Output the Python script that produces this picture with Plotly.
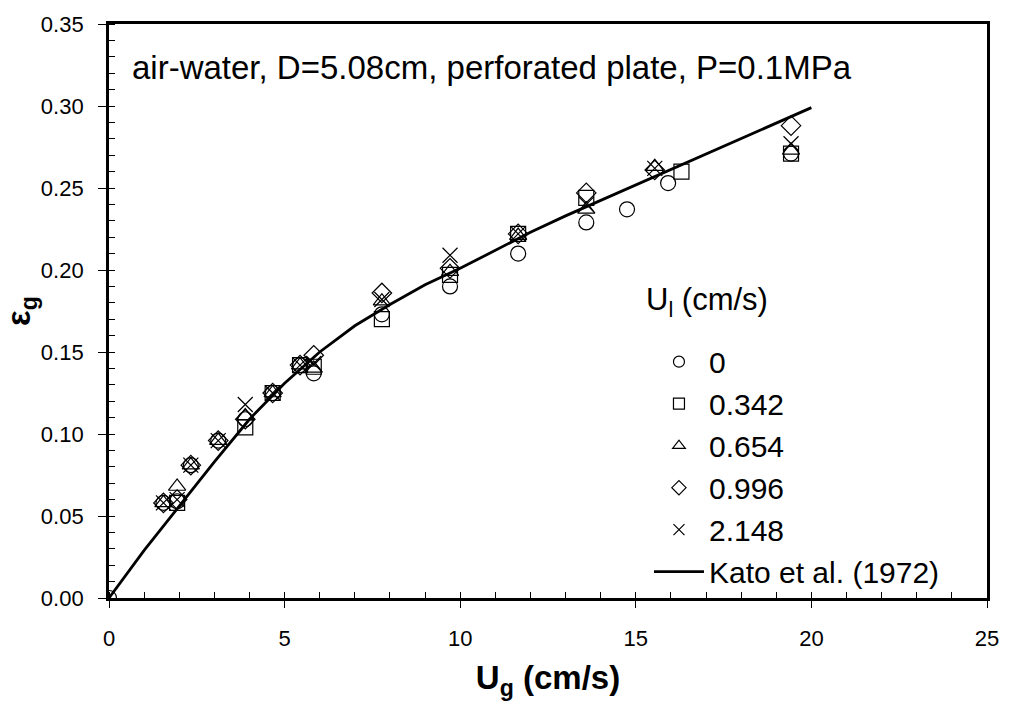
import plotly.graph_objects as go

# ---- data ----
ug_circle = [0, 1.55, 1.94, 2.33, 3.11, 3.88, 4.66, 5.44, 5.83, 7.77, 9.71, 11.65, 13.59, 14.75, 15.92, 19.42]
eg_circle = [0, 0.058, 0.059, 0.081, 0.096, 0.109, 0.125, 0.142, 0.137, 0.173, 0.190, 0.210, 0.229, 0.237, 0.253, 0.271]

ug_square = [1.94, 3.88, 4.66, 5.44, 5.83, 7.77, 9.71, 11.65, 13.59, 16.30, 19.42]
eg_square = [0.058, 0.104, 0.125, 0.142, 0.141, 0.170, 0.197, 0.222, 0.244, 0.260, 0.271]

ug_triangle = [1.55, 1.94, 2.33, 3.11, 3.88, 4.66, 5.44, 5.83, 7.77, 9.71, 11.65, 13.59, 15.54, 19.42]
eg_triangle = [0.058, 0.068, 0.081, 0.096, 0.111, 0.125, 0.142, 0.140, 0.181, 0.199, 0.221, 0.237, 0.263, 0.273]

ug_diamond = [1.55, 1.94, 2.33, 3.11, 3.88, 4.66, 5.44, 5.83, 7.77, 9.71, 11.65, 13.59, 15.54, 19.42]
eg_diamond = [0.058, 0.060, 0.081, 0.096, 0.109, 0.125, 0.142, 0.148, 0.186, 0.201, 0.222, 0.247, 0.261, 0.288]

ug_cross = [1.55, 1.94, 2.33, 3.11, 3.88, 4.66, 5.44, 5.83, 7.77, 9.71, 11.65, 13.59, 15.54, 19.42]
eg_cross = [0.058, 0.060, 0.081, 0.096, 0.118, 0.125, 0.142, 0.143, 0.182, 0.209, 0.222, 0.240, 0.262, 0.277]

ug_kato = [0, 1, 2, 3, 4, 5, 6, 7, 8, 9, 10, 11, 12, 13, 14, 15, 16, 17, 18, 19, 20]
eg_kato = [0, 0.029, 0.056, 0.083, 0.109, 0.131, 0.150, 0.166, 0.179, 0.191, 0.201, 0.212, 0.223, 0.233, 0.2425,
           0.2515, 0.261, 0.2705, 0.280, 0.2895, 0.299]

series_names = ["0", "0.342", "0.654", "0.996", "2.148"]
kato_name = "Kato et al. (1972)"
legend_title = "U<sub>l</sub> (cm/s)"
note_text = "air-water, D=5.08cm, perforated plate, P=0.1MPa"

FONT = "Liberation Sans, Arial, sans-serif"

fig = go.Figure()

series = [
    (ug_circle, eg_circle, "circle-open"),
    (ug_square, eg_square, "square-open"),
    (ug_triangle, eg_triangle, "triangle-up-open"),
    (ug_diamond, eg_diamond, "diamond-open"),
    (ug_cross, eg_cross, "x-thin-open"),
]

fig.add_trace(go.Scatter(x=ug_kato, y=eg_kato, mode="lines",
                         line=dict(color="black", width=2.8),
                         showlegend=False, hoverinfo="skip"))

for (xs, ys, sym), name in zip(series, series_names):
    fig.add_trace(go.Scatter(x=xs, y=ys, mode="markers", showlegend=False,
                             marker=dict(symbol=sym, size=15, color="black",
                                         line=dict(color="black", width=1.2))))

# legend-only entries (smaller symbols as in the reference)
for (xs, ys, sym), name in zip(series, series_names):
    fig.add_trace(go.Scatter(x=[None], y=[None], mode="markers", name=name,
                             marker=dict(symbol=sym, size=11, color="black",
                                         line=dict(color="black", width=1.2))))
fig.add_trace(go.Scatter(x=[None], y=[None], mode="lines", name=kato_name,
                         line=dict(color="black", width=2.8)))

fig.add_annotation(x=0.024, y=0.925, xref="paper", yref="paper",
                   text=note_text, showarrow=False, xanchor="left", yanchor="middle",
                   font=dict(family=FONT, size=33, color="black"))
fig.add_annotation(x=0.609, y=0.515, xref="paper", yref="paper",
                   text=legend_title, showarrow=False, xanchor="left", yanchor="middle",
                   font=dict(family=FONT, size=31, color="black"))

fig.update_layout(
    width=1011, height=704,
    margin=dict(l=105, r=17, t=14, b=106),
    paper_bgcolor="white", plot_bgcolor="white",
    font=dict(family=FONT, color="black", size=22),
    legend=dict(x=0.615, y=0.457, xanchor="left", yanchor="top",
                bgcolor="rgba(0,0,0,0)",
                font=dict(family=FONT, size=30, color="black"),
                itemwidth=50),
    xaxis=dict(range=[0, 25], dtick=5, tick0=0, showline=True, linecolor="black",
               linewidth=2.8, mirror=True, ticks="outside", ticklen=7, tickwidth=1,
               tickcolor="black", showgrid=False, zeroline=False,
               tickfont=dict(size=22), ticklabelstandoff=12,
               minor=dict(dtick=1, ticks="inside", ticklen=6, tickcolor="black", tickwidth=1),
               title=dict(text="<b>U<sub>g</sub> (cm/s)</b>", font=dict(size=33), standoff=16)),
    yaxis=dict(range=[0, 0.35], dtick=0.05, tick0=0, tickformat=".2f", showline=True,
               linecolor="black", linewidth=2.8, mirror=True, ticks="outside", ticklen=8,
               tickwidth=1, tickcolor="black", showgrid=False, zeroline=False,
               tickfont=dict(size=22), ticklabelstandoff=10,
               minor=dict(dtick=0.01, ticks="inside", ticklen=6, tickcolor="black", tickwidth=1),
               title=dict(text="<b>ε<sub>g</sub></b>", font=dict(size=33), standoff=6)),
)

fig.write_html("out.html")
